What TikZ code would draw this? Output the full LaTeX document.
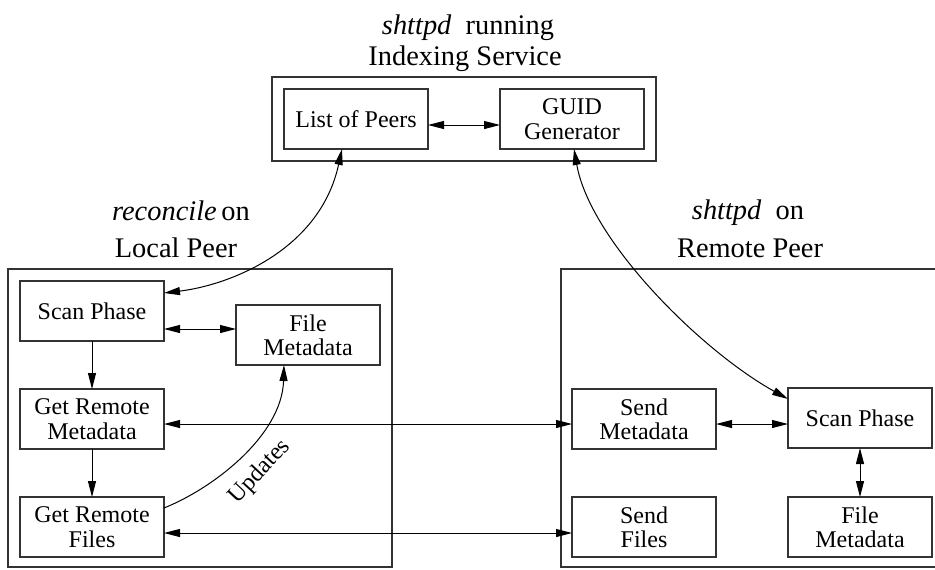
\documentclass[tikz,border=0pt]{standalone}
\usepackage{fontspec}
\setmainfont{Liberation Serif}
\usetikzlibrary{arrows.meta,calc}
\begin{document}
\begin{tikzpicture}[x=0.75pt,y=-0.75pt,
  box/.style={draw=black!80, line width=0.8pt, minimum width=108pt, minimum height=45pt,
    inner sep=0pt, outer sep=0pt, align=center, font=\fontsize{18}{18.3}\selectfont},
  frame/.style={draw=black!80, line width=0.8pt, inner sep=0pt, outer sep=0pt},
  title/.style={font=\fontsize{21.3}{24}\selectfont, anchor=base, inner sep=0pt},
  tip/.tip={Triangle[length=12pt,width=6pt]},
  link/.style={line width=0.75pt, -tip},
  both/.style={line width=0.75pt, tip-tip}]
\useasboundingbox (0,0) rectangle (935,569);
\clip (0,0) rectangle (935,569);

% indexing service
\node[title] (svcA) at (468,34) {\textit{shttpd}\ \ running};
\node[title] (svcB) at (465,65) {Indexing Service};
\node[frame, minimum width=288pt, minimum height=63pt] (svc) at (464,119) {};
\node[box] (lop) at (356,119) {List of Peers};
\node[box] (guid) at (572,119) {GUID\\Generator};

% local peer
\node[title] (locA) at (181,220) {\textit{reconcile}\,on};
\node[title] (locB) at (176,257) {Local Peer};
\node[frame, minimum width=288pt, minimum height=223.5pt] (loc) at (200,418) {};
\node[box] (scanL) at (92,311) {Scan Phase};
\node[box] (fmL) at (308,335) {File\\Metadata};
\node[box] (grm) at (92,419) {Get Remote\\Metadata};
\node[box] (grf) at (92,527) {Get Remote\\Files};

% remote peer
\node[title] (remA) at (748,219) {\textit{shttpd}\ \ on};
\node[title] (remB) at (750,257) {Remote Peer};
\node[frame, minimum width=288pt, minimum height=223.5pt] (rem) at (753,418) {};
\node[box] (sm) at (644,419) {Send\\Metadata};
\node[box] (scanR) at (860,418) {Scan Phase};
\node[box] (sf) at (644,527) {Send\\Files};
\node[box] (fmR) at (860,527) {File\\Metadata};

% end points of the horizontal connectors
\coordinate (lopE)   at ($(lop.east)+(0,6)$);
\coordinate (scanLE) at ($(scanL.east)+(0,18)$);
\coordinate (grmE)   at ($(grm.east)+(0,5)$);
\coordinate (grfE)   at ($(grf.east)+(0,6)$);
\coordinate (smE)    at ($(sm.east)+(0,5)$);

% connectors inside the service
\draw[both] (lopE) -- (lopE -| guid.west);

% connectors on the local peer
\draw[link] (scanL) -- (grm);
\draw[link] (grm) -- (grf);
\draw[both] (scanLE) -- (scanLE -| fmL.west);
\draw[link] ($(grf.east)+(0,-19)$) .. controls +(50,-20) and +(-2,70) .. ($(fmL.south)+(-24,0)$);
\node[rotate=47, inner sep=0pt, font=\fontsize{18}{18.3}\selectfont] (upd) at (260,472) {Updates};

% connectors between the peers
\draw[both] (grmE) -- (grmE -| sm.west);
\draw[both] (grfE) -- (grfE -| sf.west);

% connectors on the remote peer
\draw[both] (smE) -- (smE -| scanR.west);
\draw[both] (scanR) -- (fmR);

% connectors to the service
\draw[both] ($(lop.south)+(-14,0)$) .. controls +(-22,101) and +(66,-8) .. ($(scanL.east)+(0,-18)$);
\draw[both] ($(guid.south)+(2,0)$) .. controls +(16,91) and +(-88,-49) .. ($(scanR.north west)+(0,11)$);
\end{tikzpicture}
\end{document}
